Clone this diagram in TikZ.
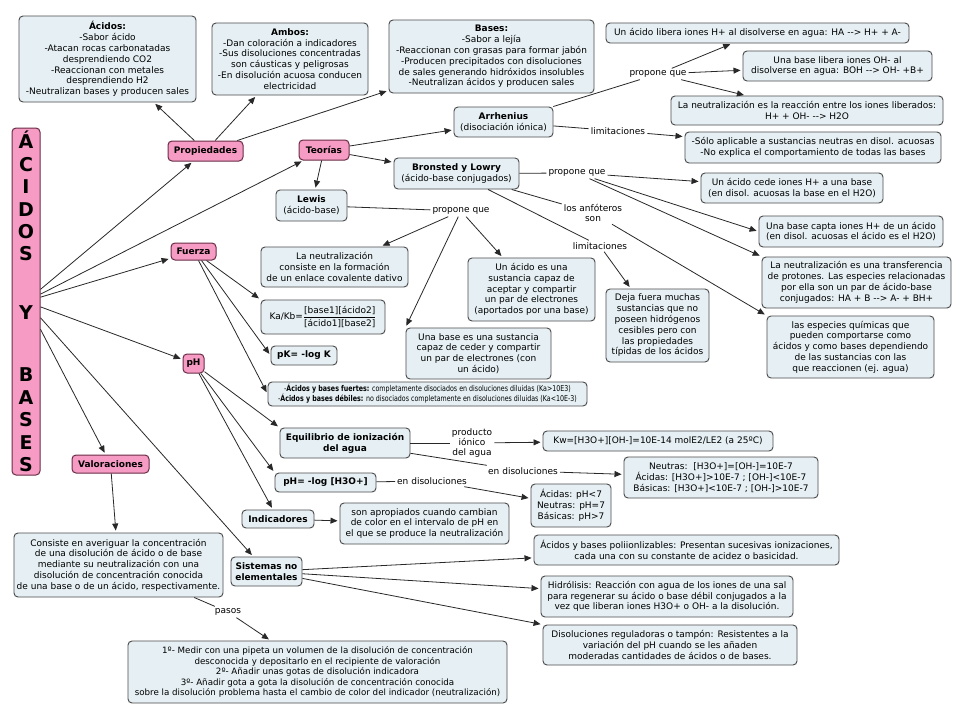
\documentclass[tikz,border=0pt]{standalone}
\usepackage{fontspec}
\setmainfont{DejaVu Sans}
\newfontfamily\narrowfont[FakeStretch=0.79]{DejaVu Sans}
\usetikzlibrary{arrows.meta}
\definecolor{pinkfill}{RGB}{246,155,195}
\definecolor{pinkline}{RGB}{105,45,70}
\definecolor{boxfill}{RGB}{230,240,244}
\definecolor{boxline}{RGB}{75,75,75}
\definecolor{linecol}{RGB}{40,40,40}
\newcommand\fs{\fontsize{9}{10.8}\selectfont}
\newcommand\bfs{\fontsize{9}{10.8}\selectfont\bfseries}
\newcommand\pfs{\fontsize{8.7}{10.5}\selectfont}
\newcommand\nfs{\narrowfont\fontsize{8}{10}\selectfont}
\newcommand\rarr{-{}->}
\begin{document}
\begin{tikzpicture}[x=1pt,y=-1pt,
 box/.style={draw=boxline, fill=boxfill, rounded corners=4pt, line width=0.95pt, align=center, font=\fs, inner xsep=2pt, inner ysep=2pt},
 pbox/.style={draw=pinkline, fill=pinkfill, rounded corners=4pt, line width=1pt, align=center, font=\bfs, inner sep=2pt},
 lbl/.style={font=\fs, inner sep=2pt, align=center},
 arr/.style={draw=linecol, line width=0.8pt, -{Triangle[length=7pt,width=6pt]}, shorten >=2pt},
 ln/.style={draw=linecol, line width=0.8pt},
 sz/.style 2 args={minimum width=#1, minimum height=#2},
]
\fill[white] (0,0) rectangle (960,720);
\useasboundingbox (0,0) rectangle (960,720);

% title
\node[pbox, sz={28pt}{347pt}, inner sep=0pt, font=\fontsize{19}{22.4}\selectfont\bfseries] (title) at (26,301.5)
 {Á\\C\\I\\D\\O\\S\\[36.6pt]Y\\[39.6pt]B\\A\\S\\E\\S};

% propiedades
\node[box, sz={177pt}{86pt}] (acid) at (107.5,59) {\textbf{Ácidos:}\\-Sabor ácido\\-Atacan rocas carbonatadas\\desprendiendo CO2\\-Reaccionan con metales\\desprendiendo H2\\-Neutralizan bases y producen sales};
\node[box, sz={156pt}{72pt}] (ambos) at (290,59) {\textbf{Ambos:}\\-Dan coloración a indicadores\\-Sus disoluciones concentradas\\son cáusticas y peligrosas\\-En disolución acuosa conducen\\electricidad};
\node[box, sz={205pt}{73pt}] (bases) at (491.5,56.5) {\textbf{Bases:}\\-Sabor a lejía\\-Reaccionan con grasas para formar jabón\\-Producen precipitados con disoluciones\\de sales generando hidróxidos insolubles\\-Neutralizan ácidos y producen sales};
\node[pbox, sz={75pt}{20pt}] (prop) at (205.5,151) {Propiedades};
\node[pbox, sz={50pt}{20pt}] (teor) at (324,150) {Teorías};

% teorias
\node[box, sz={99pt}{30pt}] (arrh) at (503.5,122) {\textbf{Arrhenius}\\(disociación iónica)};
\node[box, sz={125pt}{31pt}] (bron) at (456.5,173.5) {\textbf{Bronsted y Lowry}\\(ácido-base conjugados)};
\node[box, sz={71pt}{31pt}] (lewis) at (311.5,205.5) {\textbf{Lewis}\\(ácido-base)};

\node[box, sz={303pt}{20pt}] (arr1) at (757.5,33) {Un ácido libera iones H+ al disolverse en agua: HA \rarr{} H+ + A-};
\node[box, sz={189pt}{30pt}] (arr2) at (837.5,66) {Una base libera iones OH- al\\disolverse en agua: BOH \rarr{} OH- +B+};
\node[box, sz={272pt}{29pt}] (arr3) at (807,110.5) {La neutralización es la reacción entre los iones liberados:\\H+ + OH- \rarr{} H2O};
\node[box, sz={256pt}{31pt}] (arrlim) at (813,147.5) {-Sólo aplicable a sustancias neutras en disol. acuosas\\-No explica el comportamiento de todas las bases};

\node[box, sz={182pt}{30pt}] (bl1) at (792,188) {Un ácido cede iones H+ a una base\\(en disol. acuosas la base en el H2O)};
\node[box, sz={184pt}{31pt}] (bl2) at (851,231.5) {Una base capta iones H+ de un ácido\\(en disol. acuosas el ácido es el H2O)};
\node[box, sz={189pt}{51pt}] (bl3) at (856.5,282.5) {La neutralización es una transferencia\\de protones. Las especies relacionadas\\por ella son un par de ácido-base\\conjugados: HA + B \rarr{} A- + BH+};
\node[box, sz={167pt}{62pt}] (bl4) at (850.5,347) {las especies químicas que\\pueden comportarse como\\ácidos y como bases dependiendo\\de las sustancias con las\\que reaccionen (ej. agua)};
\node[box, sz={103pt}{73pt}] (bllim) at (657.5,325.5) {Deja fuera muchas\\sustancias que no\\poseen hidrógenos\\cesibles pero con\\las propiedades\\típidas de los ácidos};

\node[box, sz={147pt}{40pt}] (lew1) at (334.5,267) {La neutralización\\consiste en la formación\\de un enlace covalente dativo};
\node[box, sz={127pt}{63pt}] (lew2) at (531.5,289.5) {Un ácido es una\\sustancia capaz de\\aceptar y compartir\\un par de electrones\\(aportados por una base)};
\node[box, sz={145pt}{51pt}] (lew3) at (478.5,353.5) {Una base es una sustancia\\capaz de ceder y compartir\\un par de electrones (con\\un ácido)};

% fuerza
\node[pbox, sz={45pt}{17pt}] (fuer) at (193.5,251.5) {Fuerza};
\node[box, sz={124pt}{34pt}] (kakb) at (323,317) {Ka/Kb=$\displaystyle\frac{\hbox{[base1][ácido2]}}{\hbox{[ácido1][base2]}}$};
\node[box, sz={66pt}{19pt}, font=\bfs] (pk) at (304,355.5) {pK= -log K};
\node[box, sz={319pt}{24pt}, font=\nfs] (fuert) at (427.5,394) {-\textbf{Ácidos y bases fuertes:} completamente disociados en disoluciones diluidas (Ka>10E3)\\-\textbf{Ácidos y bases débiles:} no disociados completamente en disoluciones diluidas (Ka<10E-3)};

% pH
\node[pbox, sz={21pt}{19pt}] (ph) at (193.5,363.5) {pH};
\node[box, sz={130pt}{30pt}, font=\bfs] (equil) at (345,443) {Equilibrio de ionización\\del agua};
\node[box, sz={230pt}{20pt}] (kw) at (658,441) {Kw=[H3O+][OH-]=10E-14 molE2/LE2 (a 25ºC)};
\node[box, sz={194pt}{41pt}] (neut) at (721,477.5) {Neutras:\ \ [H3O+]=[OH-]=10E-7\\Ácidas: [H3O+]>10E-7 ; [OH-]<10E-7\\Básicas: [H3O+]<10E-7 ; [OH-]>10E-7};
\node[box, sz={101pt}{19pt}, font=\bfs] (phlog) at (325.5,482.5) {pH= -log [H3O+]};
\node[box, sz={80pt}{43pt}] (phv) at (571,505.5) {Ácidas: pH<7\\Neutras: pH=7\\Básicas: pH>7};
\node[box, sz={72pt}{18pt}, font=\bfs] (indic) at (278,519) {Indicadores};
\node[box, sz={169pt}{41pt}] (indt) at (424.5,523.5) {son apropiados cuando cambian\\de color en el intervalo de pH en\\el que se produce la neutralización};

% valoraciones
\node[pbox, sz={77pt}{18pt}] (valor) at (110.5,464) {Valoraciones};
\node[box, sz={209pt}{64pt}] (valt) at (118.5,565) {Consiste en averiguar la concentración\\de una disolución de ácido o de base\\mediante su neutralización con una\\disolución de concentración conocida\\de una base o de un ácido, respectivamente.};
\node[box, sz={379pt}{62pt}, font=\pfs] (pasos) at (317.5,672) {1º- Medir con una pipeta un volumen de la disolución de concentración\\desconocida y depositarlo en el recipiente de valoración\\2º- Añadir unas gotas de disolución indicadora\\3º- Añadir gota a gota la disolución de concentración conocida\\sobre la disolución problema hasta el cambio de color del indicador (neutralización)};

% sistemas
\node[box, sz={71pt}{29pt}, font=\bfs] (sist) at (266.5,571.5) {Sistemas no\\elementales};
\node[box, sz={305pt}{30pt}] (sis1) at (686.5,550) {Ácidos y bases poliionlizables: Presentan sucesivas ionizaciones,\\cada una con su constante de acidez o basicidad.};
\node[box, sz={252pt}{41pt}] (sis2) at (667,596.5) {Hidrólisis: Reacción con agua de los iones de una sal\\para regenerar su ácido o base débil conjugados a la\\vez que liberan iones H3O+ o OH- a la disolución.};
\node[box, sz={254pt}{40pt}] (sis3) at (670,645) {Disoluciones reguladoras o tampón: Resistentes a la\\variación del pH cuando se les añaden\\moderadas cantidades de ácidos o de bases.};

% labels
\node[lbl] (l1) at (658,74) {propone que};
\node[lbl] (l2) at (618,131) {limitaciones};
\node[lbl] (l3) at (577,173) {propone que};
\node[lbl] (l4) at (593,213) {los anfóteros\\son};
\node[lbl] (l5) at (600,246) {limitaciones};
\node[lbl] (l6) at (461,211) {propone que};
\node[lbl, font=\fontsize{9}{10}\selectfont] (l7) at (472,443) {producto\\iónico\\del agua};
\node[lbl] (l8) at (523,471) {en disoluciones};
\node[lbl] (l9) at (432,481) {en disoluciones};
\node[lbl] (l10) at (228,612) {pasos};

% connectors
\draw[arr] (title) -- (prop);
\draw[arr] (title) -- (teor);
\draw[arr] (title) -- (fuer);
\draw[arr] (title) -- (ph);
\draw[arr] (title) -- (valor);
\draw[arr] (title) -- (sist);

\draw[arr] (prop) -- (acid);
\draw[arr] (prop) -- (ambos);
\draw[arr] (prop) -- (bases);

\draw[arr] (teor) -- (arrh);
\draw[arr] (teor) -- (bron);
\draw[arr] (teor) -- (lewis);

\draw[ln] (arrh) -- (l1);
\draw[arr] (l1) -- (arr1);
\draw[arr] (l1) -- (arr2);
\draw[arr] (l1) -- (arr3);
\draw[ln] (arrh) -- (l2);
\draw[arr] (l2) -- (arrlim);

\draw[ln] (bron) -- (l3);
\draw[arr] (l3) -- (bl1);
\draw[arr] (l3) -- (bl2.west);
\draw[arr] (l3) -- (bl3.north west);
\draw[ln] (bron) -- (l4);
\draw[arr] (l4) -- (bl4.north west);
\draw[ln] (bron) -- (l5);
\draw[arr] (l5) -- (bllim);

\draw[ln] (lewis) -- (l6);
\draw[arr] (l6) -- (lew1);
\draw[arr] (l6) -- (lew2);
\draw[arr] (l6) -- (lew3.north west);

\draw[arr] ([xshift=13pt]fuer.south) -- (kakb.north west);
\draw[arr] ([xshift=8pt]fuer.south) -- (pk.west);
\draw[arr] ([xshift=5pt]fuer.south) -- (fuert.west);

\draw[arr] (ph) -- (equil.north west);
\draw[arr] (ph) -- (phlog.north west);
\draw[arr] (ph) -- (indic);

\draw[ln] (equil) -- (l7);
\draw[arr] (l7) -- (kw);
\draw[ln] (equil) -- (l8);
\draw[arr] (l8) -- (neut);
\draw[ln] (phlog) -- (l9);
\draw[arr] (l9) -- (phv);
\draw[arr] (indic) -- (indt);

\draw[arr] (valor) -- (valt);
\draw[ln] (valt) -- (l10);
\draw[arr] (l10) -- (pasos);

\draw[arr] (sist) -- (sis1);
\draw[arr] (sist) -- (sis2);
\draw[arr] (sist) -- (sis3.north west);
\end{tikzpicture}
\end{document}
